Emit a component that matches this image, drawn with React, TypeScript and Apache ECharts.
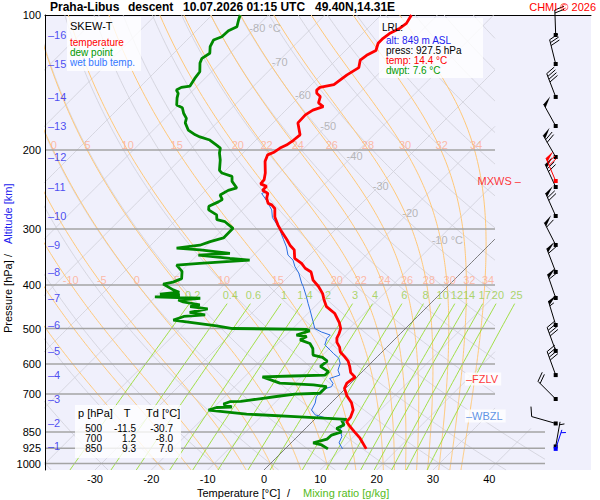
import React, { useEffect, useRef } from "react";
import * as echarts from "echarts";

// ---------------- data (pressure hPa, value °C) ----------------
const tempProfile: number[][] = [
  [927.5, 14.4], [878, 11.4], [850, 9.3], [826, 7.5], [807, 6.1], [789, 6.0], [760, 5.2], [732, 3.6],
  [707, 1.6], [680, -0.2], [662, -0.7], [642, -0.3], [627, -1.9], [607, -3.2], [591, -4.4], [577, -5.9],
  [564, -7.4], [550, -8.4], [537, -9.7], [525, -10.5], [513, -10.9], [500, -11.5], [485, -12.8], [463, -15.2],
  [447, -17.9], [432, -19.5], [428, -19.9], [418, -20.9], [403, -22.9], [390, -25.0], [374, -26.8], [367, -28.5],
  [358, -30.0], [349, -32.1], [334, -33.7], [326, -35.3], [317, -36.8], [304, -39.2], [294, -41.0], [282, -43.0],
  [270, -44.5], [265, -45.7], [263, -46.6], [256, -47.8], [250, -48.4], [248, -49.1], [246, -49.9], [241, -49.9],
  [238, -51.4], [233, -51.5], [225, -52.5], [212, -54.6], [205, -55.3], [202, -54.6], [198, -54.3], [195, -53.7],
  [190, -53.3], [185, -53.1], [174, -55.6], [167, -55.7], [163, -55.2], [160, -54.0], [157, -55.5], [152, -56.3],
  [149.5, -57.5], [147, -58.1], [145, -58.0], [143, -56.0], [136, -55.4], [131, -54.6], [126, -55.7], [123, -55.4],
  [120, -54.6], [115.6, -55.5], [112.7, -55.5], [110, -55.2], [107, -54.3], [104.4, -54.0], [100, -54.6],
];

const dewProfile: number[][] = [
  [927.5, 7.6], [909, 5.8], [899, 3.9], [882, 5.7], [864, 5.8], [850, 7.0], [835, 5.5], [820, 6.2], [800, 4.9],
  [797, 5.7], [787, -3.1], [776, -13.0], [760, -20.5], [750, -19.5], [748, -16.9], [737, -18.9], [728, -18.2],
  [727, -16.3], [722, -14.9], [707, -10.3], [700, -8.0], [697, -3.7], [674, -3.7], [668, -6.3], [662, -12.6],
  [641, -16.8], [638, -11.6], [635, -6.0], [624, -6.0], [607, -8.4], [591, -8.1], [580, -9.6], [573, -11.7],
  [554, -12.9], [540, -14.3], [530, -16.7], [521, -16.1], [517, -18.2], [506, -16.6], [502, -17.5], [500, -30.7],
  [493, -34.0], [479, -42.7], [470, -41.5], [466, -38.0], [460, -41.2], [452, -38.6], [447, -42.1], [443, -40.7],
  [436, -44.2], [432, -45.4], [428, -41.8], [425, -50.1], [421, -46.0], [419, -49.7], [415, -46.6], [410, -48.1],
  [398, -50.9], [394, -49.5], [387, -48.6], [373, -49.8], [361, -51.9], [358, -48.1], [352, -39.8], [349, -43.6],
  [343, -49.8], [340, -44.5], [334, -50.4], [331, -54.9], [326, -51.3], [320, -50.1], [314, -48.4], [299, -48.4],
  [289, -51.0], [286, -52.8], [279, -53.7], [272, -56.0], [267, -56.6], [261, -55.7], [258, -55.4], [252, -56.6],
  [246, -56.0], [243, -54.9], [235, -56.9], [229, -57.8], [225, -60.2], [222, -61.1], [210.5, -62.8], [203, -64.2],
  [198, -64.9], [195, -66.1], [190, -68.2], [187, -70.5], [185, -71.7], [180.5, -73.8], [174, -75.6], [170, -76.2],
  [165.6, -77.6], [161, -78.8], [158.7, -80.3], [153, -81.5], [149.5, -82.1], [147, -83.0], [145, -82.6],
  [144, -81.3], [138.5, -81.8], [133.8, -82.1], [128, -83.6], [124.9, -84.1], [121.7, -83.6], [117.7, -84.7],
  [113.7, -85.3], [111.8, -84.4], [108.4, -84.3], [106.2, -83.5], [102.6, -84.4], [100, -85.0],
];

const wetBulbLow: number[][] = [
  [927.5, 10.2], [899, 8.5], [871, 7.9], [842, 6.4], [813, 5.8], [800, 5.5], [795, 4.4], [790, 1.5], [779, -0.7],
  [760, -2.2], [733, -2.8], [710, -3.7], [685, -4.0], [674, -2.8], [663, -3.1], [646, -4.6], [635, -3.4],
  [619, -4.6], [598, -5.4], [582, -6.6], [568, -8.4], [558, -9.6], [544, -11.4], [526, -12.2], [517, -12.2],
  [509, -14.3], [500, -16.1], [483, -17.6], [455, -20.2], [440, -21.7], [425, -23.2], [403, -25.6], [396, -26.5],
  [376, -28.8], [364, -30.6], [352, -32.1], [343, -33.9], [329, -35.6], [317, -37.4], [301.5, -39.8], [292, -41.5],
  [283, -43.3], [272, -44.8], [260, -47.2], [250, -49.5],
];

const pressureLevels = [200, 300, 400, 500, 600, 700, 850, 925, 1000];
const pressureTicks = [100, 200, 300, 400, 500, 600, 700, 850, 925, 1000];
const tempTicks = [-30, -20, -10, 0, 10, 20, 30, 40];

const altKm = [1, 2, 3, 4, 5, 6, 7, 8, 9, 10, 11, 12, 13, 14, 15, 16];
const altP = [916, 814, 718, 635, 561, 491, 427.5, 374, 325.6, 280.6, 241.8, 207.3, 176.8, 152.3, 128.6, 110.8];
const windDir = [10, 286, 315, 340, 340, 343, 341, 339, 333, 336, 335, 330, 331, 339, 346, 358];
const windSpd = [5, 10, 20, 40, 40, 55, 60, 60, 60, 70, 70, 70, 50, 40, 30, 20];
const maxWind = { p: 234.5, dir: 337, spd: 70 };
const lrlWind = { p: 927.5, dir: 18, spd: 5 };

const isothermValues = [-120, -110, -100, -90, -80, -70, -60, -50, -40, -30, -20, -10, 0, 10, 20, 30, 40];
const isoLabelT = [-80, -70, -60, -50, -40, -30, -20, -10];
const isoLabelP = [106.9, 127.3, 150.8, 176.8, 206.3, 240.8, 276.4, 317.4];
const dryThetas = [-40, -30, -20, -10, 0, 10, 20, 30, 40, 50, 60, 70, 80, 90, 100, 110, 120, 130, 140, 150, 160, 170, 180, 190];
const moistThetas = [-20, -15, -10, -5, 0, 5, 10, 15, 20, 22, 24, 26, 28, 30, 32, 34];
const moistLabelsUpper = [0, 5, 10, 15, 20, 22, 24, 26, 28, 30, 32, 34];
const moistLabelsLower = [-10, -5, 0, 5, 10, 15, 20, 22, 24, 26, 28, 30, 32, 34];
const mixingRatios = [0.2, 0.4, 0.6, 1, 1.4, 2, 3, 4, 6, 8, 10, 12, 14, 17, 20, 25];

const levelTable = { p: [500, 700, 850], t: [-11.5, 1.2, 9.3], td: [-30.7, -8.0, 7.0] };
const lrl = { alt: 849, press: 927.5, temp: 14.4, dwpt: 7.6 };
const freezingLevelP = 648;
const wetBulbZeroP = 783;

// ---------------- layout / projection ----------------
const FONT = "'Liberation Sans', Arial, Helvetica, sans-serif";
const PX = 5.633; // px per °C
const PLOG = 194.8; // px per ln(p)
const SKEW = PLOG / PX;
const P_TOP = 100;
const P_BOT = 100 * Math.exp(455 / PLOG);
const GRID = { left: 45, top: 15, width: 546, height: 455 };
const X_MIN = (45 - 264) / PX;
const X_MAX = X_MIN + GRID.width / PX;
const X_RIGHT = X_MIN + 450 / PX;
const X_RIGHT_LOW = X_MIN + 500 / PX;
const P_SWITCH = 835;
const XB = X_MIN + 510.7 / PX;

const sx = (T: number, p: number) => T + SKEW * Math.log(P_BOT / p);
const pt = (T: number, p: number) => [sx(T, p), Math.log(p)];
const BREAK: any = ["-", "-"];

function inside(q: number[]) {
  const p = Math.exp(q[1]);
  return q[0] <= (p >= P_SWITCH ? X_RIGHT_LOW : X_RIGHT);
}
function clipLine(out: any[], pts: number[][]) {
  let prev: number[] | null = null;
  let prevIn = false;
  for (const q of pts) {
    const qIn = inside(q);
    if (prev) {
      if (prevIn && qIn) out.push(q);
      else if (prevIn !== qIn) {
        let a = 0, b = 1;
        const lerp = (t: number) => [prev![0] + (q[0] - prev![0]) * t, prev![1] + (q[1] - prev![1]) * t];
        for (let k = 0; k < 16; k++) {
          const m = (a + b) / 2;
          if (inside(lerp(m)) === prevIn) a = m; else b = m;
        }
        const pm = lerp(prevIn ? a : b);
        if (prevIn) { out.push(pm); out.push(BREAK); }
        else { out.push(pm); out.push(q); }
      }
    } else if (qIn) out.push(q);
    prev = q; prevIn = qIn;
  }
  out.push(BREAK);
}
function logSamples(pFrom: number, pTo: number, n: number) {
  const a = Math.log(pFrom), b = Math.log(pTo);
  const r: number[] = [];
  for (let i = 0; i <= n; i++) r.push(Math.exp(a + (b - a) * i / n));
  return r;
}

function dTdp(T: number, p: number) {
  const Tc = T - 273.15;
  const es = 6.112 * Math.exp((17.67 * Tc) / (Tc + 243.5));
  const rs = (0.622 * es) / Math.max(p - es, 1);
  const num = 287.04 * T + 2.501e6 * rs;
  const den = 1005.7 + (2.501e6 * 2.501e6 * rs * 0.622) / (287.04 * T * T);
  return num / (den * p);
}
function moistCurve(thw: number) {
  const upper: number[][] = [];
  let T = thw + 273.15;
  for (let p = 1000; p > P_TOP; p -= 1) {
    if ((1000 - p) % 4 === 0) upper.push([p, T - 273.15]);
    const dp = -1;
    const k1 = dTdp(T, p);
    const k2 = dTdp(T + (k1 * dp) / 2, p + dp / 2);
    T += k2 * dp;
  }
  upper.push([P_TOP, T - 273.15]);
  const lower: number[][] = [];
  T = thw + 273.15;
  for (let p = 1000; p < P_BOT; p += 1) {
    const dp = Math.min(1, P_BOT - p);
    const k1 = dTdp(T, p);
    const k2 = dTdp(T + (k1 * dp) / 2, p + dp / 2);
    T += k2 * dp;
    lower.push([p + dp, T - 273.15]);
  }
  return lower.reverse().concat(upper);
}
function interpT(curve: number[][], p: number) {
  for (let i = 0; i < curve.length - 1; i++) {
    const [p1, t1] = curve[i], [p2, t2] = curve[i + 1];
    if ((p1 - p) * (p2 - p) <= 0) return t1 + ((t2 - t1) * (p - p1)) / (p2 - p1 || 1);
  }
  return curve[curve.length - 1][1];
}
const mixTd = (w: number, p: number) => {
  const e = (w * p) / (622 + w);
  const L = Math.log(e / 6.112);
  return (243.5 * L) / (17.67 - L);
};

function buildOption() {
  const samples = logSamples(P_BOT, P_TOP, 160);

  const isoData: any[] = [];
  isothermValues.forEach((T) => clipLine(isoData, samples.map((p) => pt(T, p))));
  const zeroData: any[] = [];
  clipLine(zeroData, samples.map((p) => pt(0, p)));

  const dryData: any[] = [];
  dryThetas.forEach((th) =>
    clipLine(dryData, samples.map((p) => pt((th + 273.15) * Math.pow(p / 1000, 0.2857) - 273.15, p)))
  );

  const moistData: any[] = [];
  const curves: Record<number, number[][]> = {};
  moistThetas.forEach((th) => {
    const c = moistCurve(th);
    curves[th] = c;
    clipLine(moistData, c.map(([p, t]) => pt(t, p)));
  });

  const mixData: any[] = [];
  mixingRatios.forEach((w) => {
    logSamples(P_BOT, 440, 40).forEach((p) => mixData.push(pt(mixTd(w, p), p)));
    mixData.push(BREAK);
  });

  const presData: any[] = [];
  pressureLevels.forEach((p) => {
    presData.push([X_MIN, Math.log(p)]);
    presData.push([p >= P_SWITCH ? X_RIGHT_LOW : X_RIGHT, Math.log(p)]);
    presData.push(BREAK);
  });

  const isoLabels = isoLabelT.map((T, i) => ({
    name: T === -80 || T === -10 ? `${T} °C` : `${T}`,
    value: pt(T, isoLabelP[i]),
  }));
  const moistLabelData: any[] = [];
  moistLabelsUpper.forEach((th) =>
    moistLabelData.push({ name: `${th}`, value: pt(interpT(curves[th], 195), 195) })
  );
  moistLabelsLower.forEach((th) =>
    moistLabelData.push({ name: `${th}`, value: pt(interpT(curves[th], 389.5), 389.5) })
  );
  const mixLabelData = mixingRatios.map((w) => ({ name: `${w}`, value: pt(mixTd(w, 421), 421) }));
  const altLabelData = altKm.map((k, i) => ({ name: `\u2013${k}`, value: [X_MIN, Math.log(altP[i])] }));

  const wetBulb = wetBulbLow.concat(tempProfile.filter((d) => d[0] < 250));

  const windData: number[][] = altP.map((p, i) => [XB, Math.log(p), windDir[i], windSpd[i], 0]);
  windData.push([XB, Math.log(maxWind.p), maxWind.dir, maxWind.spd, 1]);
  windData.push([XB, Math.log(lrlWind.p), lrlWind.dir, lrlWind.spd, 2]);

  const line = (data: any[], color: string, width: number, z: number) => ({
    type: "line",
    data,
    showSymbol: false,
    symbol: "none",
    silent: true,
    connectNulls: false,
    lineStyle: { color, width },
    z,
    animation: false,
  });
  const labels = (data: any[], label: any, z = 4) => ({
    type: "scatter",
    data,
    symbolSize: 1,
    itemStyle: { color: "rgba(0,0,0,0)" },
    silent: true,
    z,
    animation: false,
    label: { show: true, formatter: "{b}", fontFamily: FONT, fontSize: 11, position: "inside", ...label },
  });

  const txt = (x: number, y: number, text: string, fill: string, size: number, extra: any = {}) => ({
    type: "text",
    x,
    y,
    z: 50,
    silent: true,
    style: {
      text,
      fill,
      font: `${extra.bold ? "bold " : ""}${size}px ${FONT}`,
      align: extra.align || "left",
      verticalAlign: "middle",
    },
    rotation: extra.rotation || 0,
  });
  const box = (x: number, y: number, w: number, h: number) => ({
    type: "rect",
    z: 3,
    silent: true,
    shape: { x, y, width: w, height: h },
    style: { fill: "rgba(255,255,255,0.8)" },
  });

  const graphic = [
    {
      type: "line",
      z: 20,
      silent: true,
      shape: { x1: 45.5, y1: 15, x2: 45.5, y2: 470 },
      style: { stroke: "#000", lineWidth: 1 },
    },
    txt(50, 7, "Praha-Libus", "#000", 12, { bold: true }),
    txt(128, 7, "descent", "#000", 12, { bold: true }),
    txt(183, 7, "10.07.2026 01:15 UTC", "#000", 12, { bold: true }),
    txt(315, 7, "49.40N,14.31E", "#000", 12, { bold: true }),
    txt(596, 7, "CHMI \u00a9 2026", "#ff0000", 11, { align: "right" }),
    txt(197, 493, "Temperature [°C]", "#000", 11),
    txt(287, 493, "/", "#000", 11),
    txt(303, 493, "Mixing ratio [g/kg]", "#55bb22", 11),
    txt(8, 333, "Pressure [hPa]", "#000", 11, { rotation: Math.PI / 2 }),
    txt(8, 257, "/", "#000", 11, { rotation: Math.PI / 2 }),
    txt(8, 244, "Altitude [km]", "#2222ee", 11, { rotation: Math.PI / 2 }),
    box(67, 17, 74, 54),
    txt(70, 26, "SKEW-T", "#000", 11),
    txt(70, 42, "temperature", "#ff0000", 10),
    txt(70, 52, "dew point", "#009900", 10),
    txt(70, 62, "wet bulb temp.", "#3377ff", 10),
    box(379, 18, 104, 60),
    txt(382, 27, "LRL:", "#000", 10),
    txt(386, 40, `alt: ${lrl.alt} m ASL`, "#2222ee", 10),
    txt(386, 50.5, `press: ${lrl.press} hPa`, "#000", 10),
    txt(386, 60.5, `temp: ${lrl.temp.toFixed(1)} °C`, "#ff0000", 10),
    txt(386, 70.5, `dwpt: ${lrl.dwpt.toFixed(1)} °C`, "#009900", 10),
    box(75, 405, 106, 53),
    txt(78, 413, "p [hPa]", "#000", 11),
    txt(127, 413, "T", "#000", 11, { align: "center" }),
    txt(146, 413, "Td [°C]", "#000", 11),
    ...levelTable.p.flatMap((p, i) => [
      txt(102, 428.5 + i * 10, `${p}`, "#000", 10, { align: "right" }),
      txt(136, 428.5 + i * 10, levelTable.t[i].toFixed(1), "#000", 10, { align: "right" }),
      txt(173, 428.5 + i * 10, levelTable.td[i].toFixed(1), "#000", 10, { align: "right" }),
    ]),
  ];

  const barbSeries = {
    type: "custom",
    coordinateSystem: "cartesian2d",
    data: windData,
    silent: true,
    clip: false,
    z: 10,
    animation: false,
    renderItem: (_params: any, api: any) => {
      const base = api.coord([api.value(0), api.value(1)]);
      const dir = (api.value(2) * Math.PI) / 180;
      const spd = api.value(3);
      const ci = api.value(4);
      const color = ci === 1 ? "#ff0000" : ci === 2 ? "#0000ff" : "#000000";
      const L = ci === 2 ? 20 : 25;
      const FL = 10;
      const ux = Math.sin(dir), uy = -Math.cos(dir);
      const tip = [base[0] + ux * L, base[1] + uy * L];
      const px = -uy, py = ux;
      const tl = (20 * Math.PI) / 180;
      const bx = px * Math.cos(tl) + ux * Math.sin(tl);
      const by = py * Math.cos(tl) + uy * Math.sin(tl);
      const ch: any[] = [
        { type: "line", shape: { x1: base[0], y1: base[1], x2: tip[0], y2: tip[1] }, style: { stroke: color, lineWidth: 1 } },
        { type: "rect", shape: { x: base[0] - 2, y: base[1] - 2, width: 4, height: 4 }, style: { fill: color } },
      ];
      let rem = Math.round(spd / 5) * 5;
      const n50 = Math.floor(rem / 50); rem -= n50 * 50;
      const n10 = Math.floor(rem / 10); rem -= n10 * 10;
      const n5 = rem >= 5 ? 1 : 0;
      let s = 0;
      for (let i = 0; i < n50; i++) {
        const a = [tip[0] - ux * s, tip[1] - uy * s];
        const b = [tip[0] - ux * (s + 4), tip[1] - uy * (s + 4)];
        const c = [a[0] + bx * FL, a[1] + by * FL];
        ch.push({ type: "polygon", shape: { points: [a, c, b] }, style: { fill: color } });
        s += 5;
      }
      if (n50 === 0 && n10 === 0) s = 3;
      for (let i = 0; i < n10; i++) {
        const a = [tip[0] - ux * s, tip[1] - uy * s];
        ch.push({ type: "line", shape: { x1: a[0], y1: a[1], x2: a[0] + bx * FL, y2: a[1] + by * FL }, style: { stroke: color, lineWidth: 1 } });
        s += 3;
      }
      if (n5) {
        const a = [tip[0] - ux * s, tip[1] - uy * s];
        ch.push({ type: "line", shape: { x1: a[0], y1: a[1], x2: a[0] + (bx * FL) / 2, y2: a[1] + (by * FL) / 2 }, style: { stroke: color, lineWidth: 1 } });
      }
      return { type: "group", children: ch };
    },
  };

  return {
    animation: false,
    textStyle: { fontFamily: FONT },
    grid: { ...GRID, show: true, backgroundColor: "#f0f0fc", borderWidth: 0, containLabel: false },
    xAxis: [
      {
        type: "value",
        min: X_MIN,
        max: X_MAX,
        position: "bottom",
        axisLine: { show: false, onZero: false },
        axisTick: { show: false },
        splitLine: { show: false },
        axisLabel: { customValues: tempTicks, color: "#000", fontSize: 11, margin: 3, fontFamily: FONT },
      },
      {
        type: "value",
        min: X_MIN,
        max: X_MAX,
        position: "top",
        axisLine: { show: true, onZero: false, lineStyle: { color: "#000", width: 1 } },
        axisTick: { show: false },
        axisLabel: { show: false },
        splitLine: { show: false },
      },
    ],
    yAxis: {
      type: "value",
      inverse: true,
      position: "left",
      min: Math.log(P_TOP),
      max: Math.log(P_BOT),
      axisLine: { show: true, onZero: false, lineStyle: { color: "#000", width: 1 } },
      axisTick: { show: false },
      splitLine: { show: false },
      axisLabel: {
        customValues: pressureTicks.map((p) => Math.log(p)),
        formatter: (v: number) => `${Math.round(Math.exp(v))}`,
        color: "#000",
        fontSize: 11,
        margin: 4,
        fontFamily: FONT,
      },
    },
    series: [
      line(isoData, "#cfcfd8", 0.8, 1),
      line(dryData, "#cfcfd8", 0.8, 1),
      line(moistData, "#ffc878", 1, 1),
      line(mixData, "#99dd33", 0.9, 1),
      line(presData, "#a4a4a4", 1.5, 2),
      line(zeroData, "#666666", 0.8, 2),
      labels(isoLabels, { color: "#a6a6a6", align: "left", offset: [-6, 0] }),
      labels(moistLabelData, { color: "#ffab8f", offset: [3, 0] }),
      labels(mixLabelData, { color: "#99cc44", offset: [-3, 0] }),
      labels(altLabelData, { color: "#2222ee", align: "left", offset: [3, 0] }),
      line(wetBulb.map(([p, t]) => pt(t, p)), "#2a6ee0", 1, 5),
      line(dewProfile.map(([p, t]) => pt(t, p)), "#008800", 2.8, 6),
      line(tempProfile.map(([p, t]) => pt(t, p)), "#ff0000", 2.8, 7),
      barbSeries,
      labels(
        [{ name: "\u2013FZLV", value: [X_MIN + 420 / PX, Math.log(freezingLevelP)] }],
        { color: "#ff0000", align: "left", backgroundColor: "#ffffff", padding: [1, 3, 1, 1] },
        8
      ),
      labels(
        [{ name: "\u2013WBZL", value: [X_MIN + 420 / PX, Math.log(wetBulbZeroP)] }],
        { color: "#3377dd", align: "left", backgroundColor: "#ffffff", padding: [1, 3, 1, 1] },
        8
      ),
      labels(
        [{ name: "MXWS \u2013", value: [X_MIN + 476 / PX, Math.log(maxWind.p)] }],
        { color: "#ff0000", align: "right" },
        8
      ),
    ],
    graphic,
  };
}

export default function App() {
  const ref = useRef<HTMLDivElement>(null);
  useEffect(() => {
    if (!ref.current) return;
    const chart = echarts.init(ref.current, undefined, { renderer: "svg" });
    chart.setOption(buildOption() as any);
    return () => chart.dispose();
  }, []);
  return (
    <div
      ref={ref}
      style={{ position: "absolute", left: 0, top: 0, width: 600, height: 500, background: "#ffffff" }}
    />
  );
}
